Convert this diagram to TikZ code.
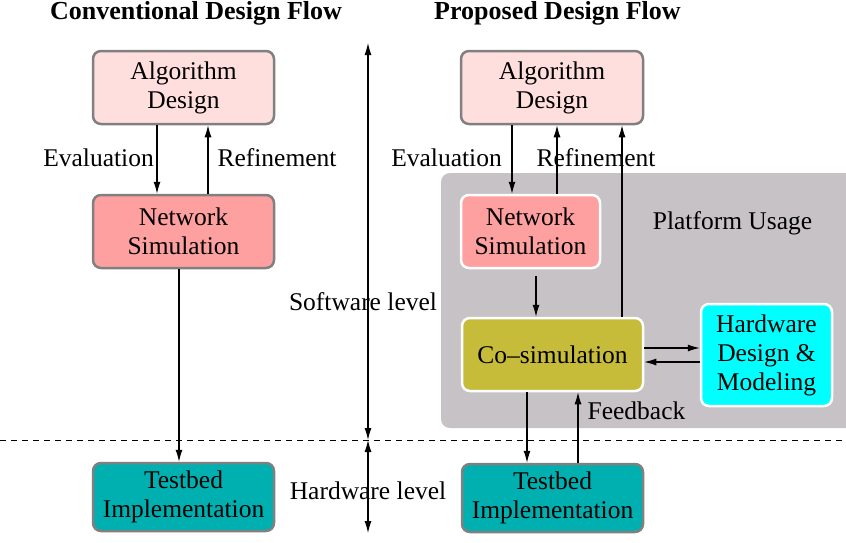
\documentclass[tikz,border=0pt]{standalone}
\usepackage{fontspec}
\setmainfont{Liberation Serif}
\usetikzlibrary{arrows.meta}

\definecolor{algfill}{HTML}{FFDEDE}
\definecolor{netfill}{HTML}{FFA0A0}
\definecolor{tbfill}{HTML}{00B0B0}
\definecolor{csfill}{HTML}{C6BC3A}
\definecolor{hwfill}{HTML}{00FFFF}
\definecolor{platfill}{HTML}{C6C2C6}
\definecolor{boxedge}{HTML}{808080}

\tikzset{
  txt/.style={font=\fontsize{25.5}{29}\selectfont, inner sep=0pt},
  ttl/.style={font=\fontsize{26}{30}\selectfont\bfseries, inner sep=0pt},
  blk/.style={txt, align=center, rounded corners=8pt, line width=2.5pt},
  outerblk/.style={blk, draw=boxedge},
  innerblk/.style={blk, draw=white},
  arr/.style={line width=1.1pt, -{Latex[length=12pt,width=7pt]}},
  dblarr/.style={line width=1.1pt, {Latex[length=12pt,width=7pt]}-{Latex[length=12pt,width=7pt]}},
}

\begin{document}
\begin{tikzpicture}[x=1pt,y=-1pt]
\useasboundingbox (0,0) rectangle (846,542);

% shaded region for the platform
\begin{scope}
  \clip (0,0) rectangle (846,542);
  \fill[platfill, rounded corners=9pt] (441,173) rectangle (870,428);
\end{scope}

% column headings
\node[ttl] (t1) at (196,13) {Conventional Design Flow};
\node[ttl] (t2) at (557.5,13) {Proposed Design Flow};

% conventional flow
\node[outerblk, fill=algfill, minimum width=181, minimum height=73] (ad1) at (183.5,87.5) {Algorithm\\Design};
\node[outerblk, fill=netfill, minimum width=181, minimum height=73] (ns1) at (183.5,231.5) {Network\\Simulation};
\node[outerblk, fill=tbfill, minimum width=181, minimum height=68] (tb1) at (183.5,497) {Testbed\\Implementation};

% proposed flow
\node[outerblk, fill=algfill, minimum width=182, minimum height=73] (ad2) at (552,87.5) {Algorithm\\Design};
\node[innerblk, fill=netfill, minimum width=139, minimum height=73] (ns2) at (530.5,231.5) {Network\\Simulation};
\node[innerblk, fill=csfill, minimum width=181, minimum height=73] (cs) at (552.5,354.5) {Co--simulation};
\node[innerblk, fill=hwfill, minimum width=131, minimum height=102] (hw) at (766.5,355) {Hardware\\Design \&\\Modeling};
\node[outerblk, fill=tbfill, minimum width=181, minimum height=68] (tb2) at (552.5,498) {Testbed\\Implementation};

% labels
\node[txt] (ev1) at (98.5,158) {Evaluation};
\node[txt] (rf1) at (277,158) {Refinement};
\node[txt] (ev2) at (446.5,158) {Evaluation};
\node[txt] (rf2) at (596,158) {Refinement};
\node[txt] (pu) at (732.5,223) {Platform Usage};
\node[txt] (fb) at (636.5,411) {Feedback};
\node[txt] (swl) at (363,302) {Software level};
\node[txt] (hwl) at (368,491) {Hardware level};

% level markers
\coordinate (swtop) at (368,43);
\coordinate (lvl) at (368,440);
\coordinate (hwbot) at (368,533);
\coordinate (dl) at (0,440);
\coordinate (dr) at (846,440);
\draw[dashed, line width=0.8pt, dash pattern=on 6pt off 5pt] (dl) -- (dr);
\draw[dblarr] (swtop) -- (lvl);
\draw[dblarr] (lvl) -- (hwbot);

% conventional flow connectors
\draw[arr] ([xshift=-26.5pt]ad1.south) -- ([xshift=-26.5pt]ns1.north);
\draw[arr] ([xshift=24.5pt]ns1.north) -- ([xshift=24.5pt]ad1.south);
\draw[arr] ([xshift=-4.5pt]ns1.south) -- ([xshift=-4.5pt]tb1.north);

% proposed flow connectors
\draw[arr] ([xshift=-40pt]ad2.south) -- ([xshift=-40pt]ad2.south |- ns2.north);
\draw[arr] ([xshift=5pt]ad2.south |- ns2.north) -- ([xshift=5pt]ad2.south);
\draw[arr] ([xshift=5.5pt,yshift=-7pt]ns2.south) -- ([xshift=5.5pt]ns2.south |- cs.north);
\draw[arr] ([xshift=69.5pt]cs.north) -- ([xshift=69.5pt]cs.north |- ad2.south);
\draw[arr] ([yshift=6.5pt]cs.east) -- ([yshift=6.5pt]cs.east -| hw.west);
\draw[arr] ([yshift=-7.5pt]cs.east -| hw.west) -- ([yshift=-7.5pt]cs.east);
\draw[arr] ([xshift=-25.5pt]cs.south) -- ([xshift=-25.5pt]tb2.north);
\draw[arr] ([xshift=25.5pt]tb2.north) -- ([xshift=25.5pt]cs.south);
\end{tikzpicture}
\end{document}
